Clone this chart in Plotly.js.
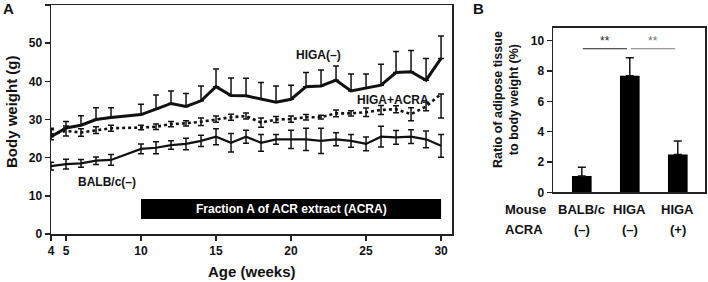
<!DOCTYPE html>
<html><head><meta charset="utf-8">
<script src="https://cdn.plot.ly/plotly-3.0.1.min.js"></script>
<style>html,body{margin:0;padding:0;background:#fff;} #chart{width:708px;height:282px;}</style>
</head><body><div id="chart"></div>
<script>
// ---- Panel A data ----
const weeks = [4,5,6,7,8,10,11,12,13,14,15,16,17,18,19,20,21,22,23,24,25,26,27,28,29,30];
const higaNeg = [25.5,27.8,28.5,30.0,30.5,31.3,32.7,34.2,33.4,34.9,38.6,36.3,36.2,35.3,34.5,35.3,38.6,38.8,40.3,37.5,38.3,39.0,42.3,42.5,40.3,46.0];
const higaNegErr = [2.2,1.7,2.5,3.1,2.6,2.7,3.7,3.3,3.4,3.9,4.6,4.6,4.6,4.4,4.3,3.7,3.7,4.2,3.7,4.4,3.6,5.5,5.5,5.6,5.7,5.9];
const higaAcra = [26.0,27.0,26.6,27.2,27.7,27.9,28.1,28.8,29.0,29.4,30.1,30.6,30.9,29.2,30.0,30.1,30.6,30.6,31.6,31.6,31.9,32.5,32.7,31.4,33.4,36.7];
const higaAcraErrPlus = [1.3,1.3,1.0,0.9,0.8,0.6,0.7,0.7,0.7,1.0,0.8,0.8,0.8,1.2,0.8,0.8,0.7,0.5,0.9,0.7,1.1,1.2,0.9,1.7,1.1,0.0];
const higaAcraErrMinus = [1.3,1.3,1.0,0.9,0.8,0.6,0.7,0.7,0.7,1.0,0.8,0.8,0.8,1.2,0.8,0.8,0.7,0.5,0.9,0.7,1.1,1.2,0.9,1.7,1.1,6.3];
const balb = [17.8,18.3,18.5,19.2,19.4,22.3,22.6,23.3,23.6,24.4,25.5,23.9,25.5,23.9,24.8,24.8,24.8,24.4,24.8,24.4,23.6,25.5,25.3,25.5,24.8,23.1];
const balbErr = [1.0,1.3,1.0,1.0,1.4,1.3,1.6,1.1,1.5,1.5,2.1,2.4,1.7,2.2,1.3,2.4,2.9,3.3,1.7,1.7,1.8,2.7,1.8,1.8,2.2,3.0];
const weekTicks = [4,5,10,15,20,25,30];
const seriesNames = ['HIGA(–)','HIGA+ACRA','BALB/c(–)'];
const treatStart = 10, treatEnd = 30;
const treatLabel = 'Fraction A of ACR extract (ACRA)';

// ---- Panel B data ----
const groups = ['BALB/c(–)','HIGA(–)','HIGA(+)'];
const mouseLabels = ['BALB/c','HIGA','HIGA'];
const acraLabels = ['(–)','(–)','(+)'];
const ratioValues = [1.08, 7.69, 2.50];
const ratioErr = [0.57, 1.19, 0.88];
const sigPairs = [[0,1],[1,2]];
const sigLabels = ['**','**'];

const W = 708, H = 282;
const FONT = 'Liberation Sans, Arial, Helvetica, sans-serif';
const px = x => x / W;
const py = y => 1 - y / H;
const INK = '#111';
const zeros = weeks.map(() => 0);

const traces = [
  {x: weeks, y: higaNeg, type:'scatter', mode:'lines', name: seriesNames[0], cliponaxis:false,
   line:{color:INK, width:3},
   error_y:{type:'data', symmetric:false, array: higaNegErr, arrayminus: zeros, color:INK, thickness:1.5, width:3},
   xaxis:'x', yaxis:'y'},
  {x: weeks, y: higaAcra, type:'scatter', mode:'lines', name: seriesNames[1], cliponaxis:false,
   line:{color:INK, width:2.6, dash:'dot'},
   error_y:{type:'data', symmetric:false, array: higaAcraErrPlus, arrayminus: higaAcraErrMinus, color:INK, thickness:1.5, width:3},
   xaxis:'x', yaxis:'y'},
  {x: weeks, y: balb, type:'scatter', mode:'lines', name: seriesNames[2], cliponaxis:false,
   line:{color:INK, width:2.2},
   error_y:{type:'data', array: balbErr, color:INK, thickness:1.5, width:3},
   xaxis:'x', yaxis:'y'},
  {x: groups, y: ratioValues, type:'bar', width:0.41, marker:{color:'#000', line:{width:0}},
   error_y:{type:'data', symmetric:false, array: ratioErr, arrayminus: ratioValues.map(()=>0), color:INK, thickness:1.5, width:4},
   xaxis:'x2', yaxis:'y2'}
];

const tickFont = {family:FONT, size:12, color:INK, weight:'bold'};
const axCommon = {showline:true, linewidth:1.5, linecolor:'#222', mirror:true, showgrid:false, zeroline:false,
  ticks:'outside', ticklen:5, tickwidth:1.5, tickcolor:'#222', tickfont:tickFont, fixedrange:true, automargin:false};

const ann = [];
function addText(text, x, y, opts) {
  ann.push(Object.assign({text:'<b>'+text+'</b>', x:x, y:y, xref:'paper', yref:'paper', showarrow:false,
    xanchor:'center', yanchor:'middle', font:{family:FONT, size:12, color:INK}}, opts||{}));
}
addText('A', px(8), py(9), {font:{family:FONT, size:15, color:INK}});
addText('B', px(478), py(9), {font:{family:FONT, size:15, color:INK}});
addText('Body weight (g)', px(11), py(112), {textangle:-90, font:{family:FONT, size:15, color:INK}});
addText('Age (weeks)', px(252), py(271), {font:{family:FONT, size:15, color:INK}});
addText('Ratio of adipose tissue<br><b>to body weight (%)', px(506), py(100), {textangle:-90, font:{family:FONT, size:12.5, color:INK}});
// series labels (data coords)
addText(seriesNames[0], 21.8, 46.9, {xref:'x', yref:'y'});
addText(seriesNames[1], 26.8, 35.0, {xref:'x', yref:'y'});
addText(seriesNames[2], 7.7, 13.7, {xref:'x', yref:'y'});
addText(treatLabel, (treatStart+treatEnd)/2, 6.55, {xref:'x', yref:'y', font:{family:FONT, size:12, color:'#fff'}});
// panel B row labels
addText('Mouse', px(503), py(209), {xanchor:'left', font:{family:FONT, size:13, color:INK}});
addText('ACRA', px(503), py(229), {xanchor:'left', font:{family:FONT, size:13, color:INK}});
groups.forEach((g, i) => {
  addText(mouseLabels[i], i, py(209), {xref:'x2', font:{family:FONT, size:13, color:INK}});
  addText(acraLabels[i], i, py(229), {xref:'x2', font:{family:FONT, size:13, color:INK}});
});

const shapes = [
  {type:'rect', xref:'x', yref:'y', x0:treatStart, x1:treatEnd, y0:3.9, y1:9.2, fillcolor:'#000', line:{width:0}, layer:'above'}
];
const sigColors = ['#222','#777'];
sigPairs.forEach((p, k) => {
  shapes.push({type:'line', xref:'x2', yref:'y2', x0:p[0]+0.02, x1:p[1]-0.06, y0:9.47, y1:9.47, line:{color:sigColors[k], width:1.2}});
  ann.push({text:sigLabels[k], x:(p[0]+p[1])/2 - 0.02, y:10.0, xref:'x2', yref:'y2', showarrow:false,
    xanchor:'center', yanchor:'middle', font:{family:FONT, size:12, color:sigColors[k]}});
});

const layout = {
  width:W, height:H, margin:{l:0,r:0,t:0,b:0}, paper_bgcolor:'#fff', plot_bgcolor:'#fff', showlegend:false,
  xaxis: Object.assign({}, axCommon, {domain:[px(51), px(452)], range:[4, 30.73], tickvals:weekTicks, anchor:'y'}),
  yaxis: Object.assign({}, axCommon, {domain:[py(234), py(5)], range:[0, 60], tickvals:[0,10,20,30,40,50,60], anchor:'x'}),
  xaxis2: Object.assign({}, axCommon, {domain:[px(553), px(705)], type:'category', range:[-0.6, 2.567], ticks:'', showticklabels:false, anchor:'y2'}),
  yaxis2: Object.assign({}, axCommon, {domain:[py(192.3), py(27.7)], range:[0, 10.86], tickvals:[0,2,4,6,8,10], anchor:'x2'}),
  annotations: ann,
  shapes: shapes
};

Plotly.newPlot('chart', traces, layout, {staticPlot:true, displayModeBar:false});
</script>
</body></html>
